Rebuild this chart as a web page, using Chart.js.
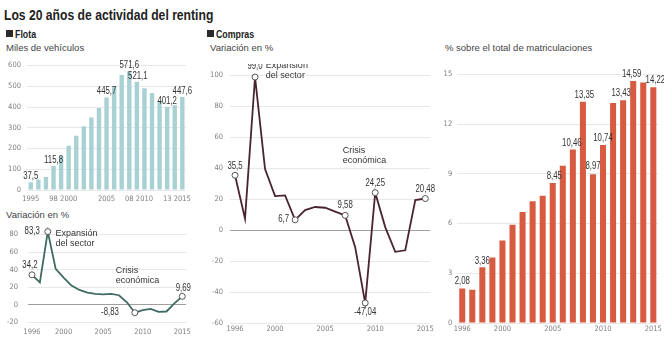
<!DOCTYPE html>
<html><head><meta charset="utf-8">
<script src="https://cdn.jsdelivr.net/npm/chart.js@4.4.1/dist/chart.umd.min.js"></script>
<style>
html,body{margin:0;padding:0;background:#fff;}
body{width:664px;height:355px;position:relative;overflow:hidden;font-family:"Liberation Sans",Arial,sans-serif;color:#333;}
.t{position:absolute;white-space:nowrap;}
.b{font-weight:bold;transform-origin:0 50%;color:#222;}
.sq{position:absolute;width:7px;height:7px;background:#2a2a2a;}
.c{position:absolute;}
canvas{display:block;}
</style></head><body>
<div class="t b" style="left:4px;top:6px;font-size:15px;line-height:18px;transform:scaleX(0.81)">Los 20 años de actividad del renting</div>
<div class="sq" style="left:6px;top:30px"></div>
<div class="t b" style="left:15px;top:27px;font-size:11px;line-height:14px;transform:scaleX(0.8)">Flota</div>
<div class="sq" style="left:207px;top:30px"></div>
<div class="t b" style="left:216px;top:27px;font-size:11px;line-height:14px;transform:scaleX(0.8)">Compras</div>
<div class="t" style="left:6px;top:42px;font-size:9.5px;line-height:12px;color:#444">Miles de vehículos</div>
<div class="t" style="left:210px;top:42px;font-size:9.5px;line-height:12px;color:#444">Variación en %</div>
<div class="t" style="left:445px;top:42px;font-size:9.5px;line-height:12px;color:#444">% sobre el total de matriculaciones</div>
<div class="t" style="left:6px;top:209px;font-size:9.5px;line-height:12px;color:#444">Variación en %</div>

<div class="c" style="left:0px;top:55px"><canvas id="c1" width="196" height="151"></canvas></div>
<div class="c" style="left:0px;top:220px"><canvas id="c2" width="196" height="125"></canvas></div>
<div class="c" style="left:200px;top:64px"><canvas id="c3" width="236" height="281"></canvas></div>
<div class="c" style="left:436px;top:64px"><canvas id="c4" width="228" height="281"></canvas></div>

<script>
// ---------- DATA ----------
const flotaYears = [1995,1996,1997,1998,1999,2000,2001,2002,2003,2004,2005,2006,2007,2008,2009,2010,2011,2012,2013,2014,2015];
const flotaValues = [37.5,50.3,63.2,115.8,163,213,262,307,350,395,445.7,500,554,571.6,521.1,490,468,430,401.2,408,447.6];
const flotaTickLabels = {1995:'1995',1998:'98',2000:'2000',2005:'2005',2008:'08',2010:'2010',2013:'13',2015:'2015'};

const varYears = [1996,1997,1998,1999,2000,2001,2002,2003,2004,2005,2006,2007,2008,2009,2010,2011,2012,2013,2014,2015];
const flotaVariation = [34.2,25.5,83.3,41,31,22,17,14,12.5,12,12.5,11,3,-8.83,-6,-4.5,-8,-7.5,1.7,9.69];
const comprasVariation = [35.5,7.5,99.0,39.5,22,22.5,6.7,13,15,14.5,12,9.58,-11,-47.04,24.25,2,-14,-13,19.5,20.48];
const cuotaMatriculaciones = [2.08,2.0,3.36,3.95,4.98,5.92,6.7,7.35,7.68,8.45,9.48,10.46,13.35,8.97,10.74,13.27,13.43,14.59,14.5,14.22];
const shownYears = [1996,2000,2005,2010,2015];

// ---------- STYLE ----------
const NARROW = "'Liberation Sans Narrow','DejaVu Sans Condensed',sans-serif";
const REG = "'Liberation Sans',Arial,sans-serif";
const fmt = (v,d)=>v.toFixed(d).replace('.',',');

const labelPlugin = {
  id:'lbls',
  afterDatasetsDraw(chart, args, opts){
    const ctx = chart.ctx;
    const meta = chart.getDatasetMeta(0);
    const data = chart.data.datasets[0].data;
    ctx.save();
    ctx.fillStyle = '#333';
    ctx.textBaseline = 'middle';
    ctx.font = '10px ' + REG;
    (opts.items||[]).forEach(it=>{
      const el = meta.data[it.i];
      ctx.save();
      ctx.translate(el.x + (it.dx||0), el.y + (it.dy||0));
      ctx.scale(0.78,1);
      ctx.textAlign = it.align || 'center';
      ctx.fillText(fmt(data[it.i], it.dec), 0, 0);
      ctx.restore();
    });
    ctx.font = '9px ' + REG;
    ctx.textAlign = 'left';
    (opts.notes||[]).forEach(n=>{
      const px = chart.scales.x.getPixelForValue(n.x);
      const py = chart.scales.y.getPixelForValue(n.y);
      n.lines.forEach((l,k)=>ctx.fillText(l, px, py + k*9.5));
    });
    ctx.restore();
  }
};

function yAxis(min,max,step,W,pad,zeroDark){
  return {min,max,afterFit:s=>{s.width=W;},border:{display:false},
    grid:{drawTicks:false,lineWidth:1,color:c=>(zeroDark && c.tick && c.tick.value===0)?'#a0a0a0':'#e8e8e8'},
    ticks:{stepSize:step,padding:pad,color:'#808080',font:{family:NARROW,size:7.5},callback:v=>String(v)}};
}
function xAxis(H,pad,cb){
  return {offset:true,afterFit:s=>{s.height=H;},border:{display:false},
    grid:{display:false,drawTicks:false},
    ticks:{autoSkip:false,maxRotation:0,minRotation:0,padding:pad,color:'#808080',font:{family:NARROW,size:7.5},callback:cb}};
}
const common = {responsive:false,animation:false,events:[],plugins:{legend:{display:false},tooltip:{enabled:false}}};

// Panel 1: Flota bars
new Chart(document.getElementById('c1'),{
  type:'bar',
  data:{labels:flotaYears,datasets:[{data:flotaValues,backgroundColor:'#a9d1d3',barPercentage:0.58,categoryPercentage:1}]},
  options:{...common,layout:{padding:{top:10,right:4,left:0,bottom:0}},
    scales:{x:xAxis(16,5,(v,i)=>flotaTickLabels[flotaYears[i]]||''),y:yAxis(0,600,100,27,6,false)},
    plugins:{...common.plugins,lbls:{items:[
      {i:0,dec:1,dy:-6},{i:3,dec:1,dy:-6},{i:10,dec:1,dy:-6},{i:13,dec:1,dy:-6},{i:14,dec:1,dx:1,dy:-6},{i:18,dec:1,dy:-6},{i:20,dec:1,dy:-6}
    ]}}},
  plugins:[labelPlugin]
});

const markerRadius = idxs => c => idxs.includes(c.dataIndex)?3:0;
const yearCb = (v,i)=>shownYears.includes(varYears[i])?String(varYears[i]):'';

// Panel 2: Flota variation
const m2 = [0,2,13,19];
new Chart(document.getElementById('c2'),{
  type:'line',
  data:{labels:varYears,datasets:[{data:flotaVariation,borderColor:'#3f6b62',borderWidth:1.8,tension:0,clip:false,
    pointRadius:markerRadius(m2),pointBackgroundColor:'#fff',pointBorderColor:'#555',pointBorderWidth:1}]},
  options:{...common,layout:{padding:{top:10,right:4,left:0,bottom:0}},
    scales:{x:xAxis(22.5,5,yearCb),y:yAxis(-20,80,20,28,10,true)},
    plugins:{...common.plugins,lbls:{
      items:[{i:0,dec:1,dx:-2,dy:-9.5},{i:2,dec:1,dx:-8,dy:0,align:'right'},{i:13,dec:2,dx:-16,dy:0,align:'right'},{i:19,dec:2,dx:1,dy:-8.5}],
      notes:[{x:2.96,y:81,lines:['Expansión','del sector']},{x:10.6,y:39,lines:['Crisis','económica']}]
    }}},
  plugins:[labelPlugin]
});

// Panel 3: Compras variation
const m3 = [0,2,6,11,13,14,19];
new Chart(document.getElementById('c3'),{
  type:'line',
  data:{labels:varYears,datasets:[{data:comprasVariation,borderColor:'#4a2432',borderWidth:1.8,tension:0,clip:false,
    pointRadius:markerRadius(m3),pointBackgroundColor:'#fff',pointBorderColor:'#555',pointBorderWidth:1}]},
  options:{...common,layout:{padding:{top:10.5,right:5,left:0,bottom:0}},
    scales:{x:xAxis(22,2,yearCb),y:yAxis(-60,100,20,30,7,true)},
    plugins:{...common.plugins,lbls:{
      items:[{i:0,dec:1,dy:-9},{i:2,dec:1,dy:-11},{i:6,dec:1,dx:-6,dy:-1,align:'right'},{i:11,dec:2,dy:-10.5},
             {i:13,dec:2,dy:9},{i:14,dec:2,dy:-9},{i:19,dec:2,dy:-9}],
      notes:[{x:3.08,y:106.3,lines:['Expansión','del sector']},{x:10.75,y:51.4,lines:['Crisis','económica']}]
    }}},
  plugins:[labelPlugin]
});

// Panel 4: % sobre matriculaciones
new Chart(document.getElementById('c4'),{
  type:'bar',
  data:{labels:varYears,datasets:[{data:cuotaMatriculaciones,backgroundColor:'#d75b40',barPercentage:0.6,categoryPercentage:1}]},
  options:{...common,layout:{padding:{top:10.3,right:4.2,left:0,bottom:0}},
    scales:{x:xAxis(22,2,yearCb),y:yAxis(0,15,3,21.2,5,false)},
    plugins:{...common.plugins,lbls:{items:[
      {i:0,dec:2,dy:-7},{i:2,dec:2,dy:-6.5},{i:9,dec:2,dx:1.5,dy:-6.5},{i:11,dec:2,dx:-1,dy:-6},{i:12,dec:2,dx:1.4,dy:-6.5},
      {i:13,dec:2,dy:-8},{i:14,dec:2,dy:-6.5},{i:16,dec:2,dx:-2,dy:-7},{i:17,dec:2,dx:-1.5,dy:-6.5},{i:19,dec:2,dx:2,dy:-6.5}
    ]}}},
  plugins:[labelPlugin]
});
</script>
</body></html>
